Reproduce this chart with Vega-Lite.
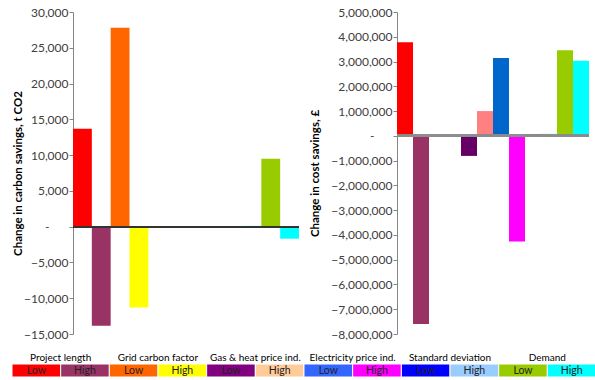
{
  "$schema": "https://vega.github.io/schema/vega-lite/v6.json",
  "padding": {"left": 11, "top": 6, "right": 0, "bottom": 0},
  "config": {
    "view": {"stroke": null},
    "font": "Lato",
    "axis": {"labelFont": "Lato", "titleFont": "Lato", "labelOverlap": false}
  },
  "datasets": {
    "cases": [
      {"group": "Project length", "level": "Low", "case": "Project length – Low", "carbon": 13700, "cost": 3780000},
      {"group": "Project length", "level": "High", "case": "Project length – High", "carbon": -13850, "cost": -7600000},
      {"group": "Grid carbon factor", "level": "Low", "case": "Grid carbon factor – Low", "carbon": 27800, "cost": 0},
      {"group": "Grid carbon factor", "level": "High", "case": "Grid carbon factor – High", "carbon": -11280, "cost": 0},
      {"group": "Gas & heat price ind.", "level": "Low", "case": "Gas & heat price ind. – Low", "carbon": 0, "cost": -810000},
      {"group": "Gas & heat price ind.", "level": "High", "case": "Gas & heat price ind. – High", "carbon": 0, "cost": 1000000},
      {"group": "Electricity price ind.", "level": "Low", "case": "Electricity price ind. – Low", "carbon": 0, "cost": 3140000},
      {"group": "Electricity price ind.", "level": "High", "case": "Electricity price ind. – High", "carbon": 0, "cost": -4270000},
      {"group": "Standard deviation", "level": "Low", "case": "Standard deviation – Low", "carbon": 0, "cost": 70000},
      {"group": "Standard deviation", "level": "High", "case": "Standard deviation – High", "carbon": 150, "cost": 100000},
      {"group": "Demand", "level": "Low", "case": "Demand – Low", "carbon": 9500, "cost": 3460000},
      {"group": "Demand", "level": "High", "case": "Demand – High", "carbon": -1680, "cost": 3030000}
    ]
  },
  "vconcat": [
    {
      "hconcat": [
        {
          "width": 226,
          "height": 322,
          "data": {"name": "cases"},
          "layer": [
            {
              "mark": {"type": "bar"},
              "encoding": {
                "x": {"field": "case", "type": "nominal", "sort": null, "axis": null,
                      "scale": {"paddingInner": 0, "paddingOuter": 0}},
                "y": {"field": "carbon", "type": "quantitative",
                      "scale": {"domain": [-15000, 30000], "nice": false},
                      "axis": {
                        "title": "Change in carbon savings, t CO2",
                        "titleFontSize": 11.5, "titleFontWeight": "bold", "titleColor": "#000000",
                        "titlePadding": 0,
                        "tickCount": 10,
                        "labelExpr": "datum.value == 0 ? '-' : format(datum.value, ',')",
                        "labelFontSize": 12, "labelColor": "#404040",
                        "labelPadding": {"condition": {"test": "datum.value == 0", "value": 20}, "value": 1},
                        "labelOverlap": false, "labelFlush": false,
                        "grid": false, "domainColor": "#868686", "tickColor": "#868686", "tickSize": 4
                      }},
                "color": {"field": "case", "type": "nominal", "legend": null,
                          "scale": {
                            "domain": ["Project length – Low", "Project length – High", "Grid carbon factor – Low", "Grid carbon factor – High", "Gas & heat price ind. – Low", "Gas & heat price ind. – High", "Electricity price ind. – Low", "Electricity price ind. – High", "Standard deviation – Low", "Standard deviation – High", "Demand – Low", "Demand – High"],
                            "range": ["#FF0000", "#993366", "#FF6600", "#FFFF00", "#660066", "#FF8080", "#0066CC", "#FF00FF", "#000080", "#CCFFFF", "#99CC00", "#00FFFF"]
                          }}
              }
            },
            {
              "mark": {"type": "rule", "color": "#333333", "strokeWidth": 1.5},
              "encoding": {"y": {"datum": 0, "type": "quantitative"}}
            }
          ]
        },
        {
          "width": 192,
          "height": 322,
          "data": {"name": "cases"},
          "layer": [
            {
              "mark": {"type": "bar"},
              "encoding": {
                "x": {"field": "case", "type": "nominal", "sort": null, "axis": null,
                      "scale": {"paddingInner": 0, "paddingOuter": 0}},
                "y": {"field": "cost", "type": "quantitative",
                      "scale": {"domain": [-8000000, 5000000], "nice": false},
                      "axis": {
                        "title": "Change in cost savings, £",
                        "titleFontSize": 11.5, "titleFontWeight": "bold", "titleColor": "#000000",
                        "titlePadding": 10,
                        "tickCount": 14,
                        "labelExpr": "datum.value == 0 ? '-' : format(datum.value, ',')",
                        "labelFontSize": 12, "labelColor": "#404040",
                        "labelPadding": {"condition": {"test": "datum.value == 0", "value": 19}, "value": 1},
                        "labelOverlap": false, "labelFlush": false,
                        "grid": false, "domainColor": "#868686", "tickColor": "#868686", "tickSize": 4
                      }},
                "color": {"field": "case", "type": "nominal", "legend": null,
                          "scale": {
                            "domain": ["Project length – Low", "Project length – High", "Grid carbon factor – Low", "Grid carbon factor – High", "Gas & heat price ind. – Low", "Gas & heat price ind. – High", "Electricity price ind. – Low", "Electricity price ind. – High", "Standard deviation – Low", "Standard deviation – High", "Demand – Low", "Demand – High"],
                            "range": ["#FF0000", "#993366", "#FF6600", "#FFFF00", "#660066", "#FF8080", "#0066CC", "#FF00FF", "#000080", "#CCFFFF", "#99CC00", "#00FFFF"]
                          }}
              }
            },
            {
              "mark": {"type": "rule", "color": "#8C8C8C", "strokeWidth": 2},
              "encoding": {"y": {"datum": 0, "type": "quantitative"}}
            }
          ]
        }
      ],
      "spacing": 9
    },
    {
      "width": 523,
      "height": 13,
      "data": {"name": "cases"},
      "encoding": {
        "x": {"field": "group", "type": "nominal", "sort": null,
              "scale": {"paddingInner": 0, "paddingOuter": 0, "range": [-61, 523]},
              "axis": {"orient": "top", "title": null, "domain": false, "ticks": false,
                       "labelAngle": 0, "labelFontSize": 10, "labelColor": "#000000", "labelPadding": 2}},
        "xOffset": {"field": "level", "type": "nominal", "sort": ["Low", "High"],
                    "scale": {"paddingInner": 0, "paddingOuter": 0}}
      },
      "layer": [
        {
          "mark": {"type": "rect", "stroke": "#FFFFFF", "strokeWidth": 1},
          "encoding": {
            "color": {"field": "case", "type": "nominal", "legend": null,
                      "scale": {
                        "domain": ["Project length – Low", "Project length – High", "Grid carbon factor – Low", "Grid carbon factor – High", "Gas & heat price ind. – Low", "Gas & heat price ind. – High", "Electricity price ind. – Low", "Electricity price ind. – High", "Standard deviation – Low", "Standard deviation – High", "Demand – Low", "Demand – High"],
                        "range": ["#FF0000", "#993366", "#FF6600", "#FFFF00", "#800080", "#FFCC99", "#3366FF", "#FF00FF", "#0000FF", "#99CCFF", "#99CC00", "#00FFFF"]
                      }}
          }
        },
        {
          "mark": {"type": "text", "fontSize": 10.5, "color": "#222222", "baseline": "middle"},
          "encoding": {"text": {"field": "level", "type": "nominal"}}
        }
      ]
    }
  ],
  "spacing": 12,
  "resolve": {"scale": {"color": "independent"}}
}
